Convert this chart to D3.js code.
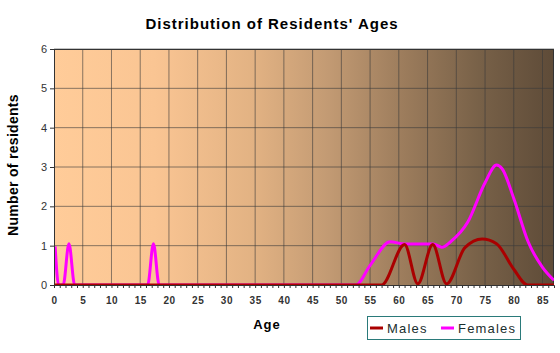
<!DOCTYPE html>
<html>
<head>
<meta charset="utf-8">
<script src="https://cdn.jsdelivr.net/npm/d3@7"></script>
<style>
  body { margin: 0; background: #fff; }
  svg { display: block; font-family: "Liberation Sans", Arial, sans-serif; }
</style>
</head>
<body>
<div class="canvas"></div>
<script>
// Data (age, number of residents)

const maleAges   = [0, 57, 61, 63.3, 65.9, 68.3, 71.5, 74.5, 77, 80, 82.4, 87];
const maleValues = [0, 0, 1.03, 0.03, 1.03, 0.03, 0.95, 1.17, 1.05, 0.4, 0, 0];

const femaleAges   = [0.2, 0.8, 1.6, 2.6, 3.6, 16.3, 17.3, 18.3, 52.5, 55, 58.5, 61, 66, 67.5, 69, 72, 75, 77, 78, 80, 82.5, 85, 87];
const femaleValues = [0.98, 0, 0, 1.05, 0, 0, 1.05, 0, 0, 0.5, 1.1, 1.04, 1.04, 0.96, 1.1, 1.6, 2.6, 3.05, 2.95, 2.2, 1.1, 0.45, 0.12];

const xTicks = d3.range(0, 86, 5);
const yTicks = [0, 1, 2, 3, 4, 5, 6];

// Set dimensions & margins

const margin = { top: 49, right: 6, bottom: 68, left: 54 };
const width = 560 - margin.left - margin.right;
const height = 353 - margin.top - margin.bottom;

const x = d3.scaleLinear()
    .domain([0, 87])
    .range([0, width]);

const y = d3.scaleLinear()
    .domain([0, 6])
    .range([height, 0]);

const root = d3.select(".canvas")
    .append("svg")
        .attr("width", 560)
        .attr("height", 353);

const svg = root.append("g")
    .attr("transform", `translate(${margin.left}, ${margin.top})`);

// Background gradient

const grad = root.append("defs")
    .append("linearGradient")
    .attr("id", "bg")
    .attr("x1", "0%").attr("x2", "100%")
    .attr("y1", "0%").attr("y2", "0%");

[["0%", "#ffcc99"], ["20%", "#fac593"], ["40%", "#e2b283"], ["55%", "#c29a73"],
 ["70%", "#9c7c5c"], ["85%", "#786148"], ["100%", "#5e4b38"]].forEach(s => {
    grad.append("stop").attr("offset", s[0]).attr("stop-color", s[1]);
});

svg.append("rect")
    .attr("width", width)
    .attr("height", height)
    .attr("fill", "url(#bg)");

// Grid lines

svg.selectAll(".xGrid")
    .data(xTicks.slice(1))
    .join("line")
    .attr("x1", d => x(d))
    .attr("x2", d => x(d))
    .attr("y1", 0)
    .attr("y2", height)
    .attr("stroke", "#3a3a3a")
    .attr("stroke-opacity", 0.6)
    .attr("stroke-width", 1);

svg.selectAll(".yGrid")
    .data(yTicks.slice(1))
    .join("line")
    .attr("x1", 0)
    .attr("x2", width)
    .attr("y1", d => y(d))
    .attr("y2", d => y(d))
    .attr("stroke", "#3a3a3a")
    .attr("stroke-opacity", 0.6)
    .attr("stroke-width", 1);

// Frame: top and right

svg.append("path")
    .attr("d", `M0,0.5H${width - 0.5}V${height}`)
    .attr("fill", "none")
    .attr("stroke", "#333")
    .attr("stroke-width", 1);

// Lines

const line = d3.line()
    .x(d => x(d[0]))
    .y(d => y(d[1]))
    .curve(d3.curveMonotoneX);

const females = femaleAges.map((a, i) => [a, femaleValues[i]]);
const males = maleAges.map((a, i) => [a, maleValues[i]]);

svg.append("clipPath").attr("id", "clip")
    .append("rect").attr("x", 0).attr("y", -5).attr("width", width).attr("height", height + 5);

svg.append("path")
    .datum(females)
    .attr("clip-path", "url(#clip)")
    .attr("fill", "none")
    .attr("stroke", "#ff00ff")
    .attr("stroke-width", 3)
    .attr("stroke-linejoin", "round")
    .attr("d", line);

svg.append("path")
    .datum(males)
    .attr("clip-path", "url(#clip)")
    .attr("fill", "none")
    .attr("stroke", "#aa0000")
    .attr("stroke-width", 3)
    .attr("stroke-linejoin", "round")
    .attr("d", line);

// x-axis: minor ticks each year, labels every 5

svg.append("g")
    .attr("transform", `translate(0,${height})`)
    .call(d3.axisBottom(x)
        .tickValues(d3.range(0, 87, 1))
        .tickSize(3)
        .tickFormat(""))
    .call(g => g.selectAll("line, path").attr("stroke", "#333"));

svg.append("g")
    .attr("transform", `translate(0,${height})`)
    .style("font-size", "10px")
    .style("font-weight", "bold")
    .call(d3.axisBottom(x)
        .tickValues(xTicks)
        .tickSize(0)
        .tickPadding(12))
    .call(g => g.select(".domain").remove())
    .selectAll(".tick text")
    .attr("fill", "#333")
    .style("letter-spacing", "0.5px")
    .style("font-family", "'Liberation Sans', Arial, sans-serif");

// y-axis

svg.append("g")
    .style("font-size", "11px")
    .call(d3.axisLeft(y)
        .tickValues(yTicks)
        .tickFormat(d3.format("d"))
        .tickSize(4)
        .tickPadding(3))
    .call(g => g.selectAll("line, path").attr("stroke", "#333"))
    .selectAll(".tick text")
    .attr("fill", "#333")
    .style("font-family", "'Liberation Sans', Arial, sans-serif");

// Titles

root.append("text")
    .attr("x", 272)
    .attr("y", 29)
    .attr("text-anchor", "middle")
    .style("font-size", "15px")
    .style("font-weight", "bold")
    .style("letter-spacing", "1px")
    .text("Distribution of Residents' Ages");

root.append("text")
    .attr("x", 267)
    .attr("y", 329)
    .attr("text-anchor", "middle")
    .style("font-size", "13px")
    .style("font-weight", "bold")
    .style("letter-spacing", "1px")
    .text("Age");

root.append("text")
    .attr("transform", `translate(18, ${margin.top + height / 2 - 2}) rotate(-90)`)
    .attr("text-anchor", "middle")
    .style("font-size", "14px")
    .style("font-weight", "bold")
    .style("letter-spacing", "0.3px")
    .text("Number of residents");

// Legend

const legend = root.append("g").attr("transform", "translate(367, 316)");

legend.append("rect")
    .attr("x", 0.5).attr("y", 0.5)
    .attr("width", 153).attr("height", 23)
    .attr("fill", "none")
    .attr("stroke", "#2a7a7a");

[["Males", "#aa0000", 3], ["Females", "#ff00ff", 74]].forEach(item => {
    legend.append("line")
        .attr("x1", item[2]).attr("x2", item[2] + 13)
        .attr("y1", 12).attr("y2", 12)
        .attr("stroke", item[1])
        .attr("stroke-width", 3);
    legend.append("text")
        .attr("x", item[2] + 17)
        .attr("y", 17)
        .style("font-size", "13px")
        .style("letter-spacing", "1.2px")
        .attr("fill", "#1a2e2e")
        .text(item[0]);
});
</script>
</body>
</html>
